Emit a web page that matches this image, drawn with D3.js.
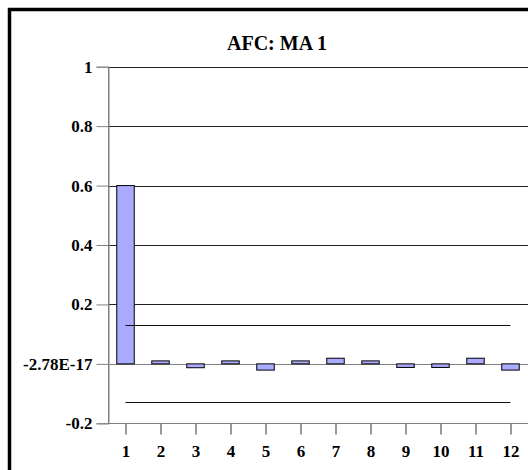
<!DOCTYPE html>
<html>
<head>
<meta charset="utf-8">
<script src="https://cdn.jsdelivr.net/npm/d3@7"></script>
<style>
  body { margin: 0; background: #fff; }
  svg { display: block; }
  text { font-family: "Liberation Serif", "Times New Roman", serif; font-weight: bold; fill: #000; }
</style>
</head>
<body>
<svg id="chart" width="528" height="470"></svg>
<script>
// lags and autocorrelation values
const lags = [1, 2, 3, 4, 5, 6, 7, 8, 9, 10, 11, 12];
const acf = [0.6, 0.01, -0.013, 0.01, -0.021, 0.01, 0.019, 0.01, -0.012, -0.012, 0.019, -0.021];
const yTicks = [-0.2, 0, 0.2, 0.4, 0.6, 0.8, 1];
const yTickLabels = ["-0.2", "-2.78E-17", "0.2", "0.4", "0.6", "0.8", "1"];
const bounds = [0.13, -0.13];

let svg = d3.select("#chart");

// outer frame
svg.append("rect")
    .attr("x", 9.5).attr("y", 9.5)
    .attr("width", 540).attr("height", 480)
    .attr("fill", "none")
    .attr("stroke", "#000")
    .attr("stroke-width", 3.5);

let x = d3.scaleBand()
    .domain(lags)
    .range([108, 528])
    .paddingInner(0.5)
    .paddingOuter(0.25);

let y = d3.scaleLinear()
    .domain([-0.2, 1])
    .range([423.3, 66.7]);

// title
svg.append("text")
    .attr("x", 277).attr("y", 50)
    .attr("text-anchor", "middle")
    .style("font-size", "20px")
    .text("AFC: MA 1");

// gridlines
svg.append("g")
    .selectAll("line")
    .data(yTicks.filter(d => d > -0.2))
    .enter().append("line")
    .attr("x1", 108).attr("x2", 528)
    .attr("y1", d => Math.round(y(d)) + 0.5)
    .attr("y2", d => Math.round(y(d)) + 0.5)
    .attr("stroke", d => d === 0 ? "#808080" : "#222")
    .attr("stroke-width", 1);

// y axis
let yAxis = d3.axisLeft(y)
    .tickValues(yTicks)
    .tickFormat((d, i) => yTickLabels[i])
    .tickSize(12)
    .tickPadding(4);

let gy = svg.append("g")
    .attr("transform", "translate(108.5,0)")
    .call(yAxis);
gy.select(".domain").attr("stroke", "#808080");
gy.selectAll(".tick line").attr("stroke", "#808080");
gy.selectAll(".tick text")
    .style("font-size", "17px")
    .style("font-family", "'Liberation Serif', serif")
    .style("font-weight", "bold");

// x axis (ticks at category centres)
let xc = d3.scalePoint()
    .domain(lags)
    .range([x(1) + x.bandwidth() / 2, x(12) + x.bandwidth() / 2]);

let xAxis = d3.axisBottom(xc)
    .tickSize(11)
    .tickSizeOuter(0)
    .tickPadding(10);

let gx = svg.append("g")
    .attr("transform", "translate(0," + (Math.round(y(-0.2)) + 0.5) + ")")
    .call(xAxis);
gx.select(".domain").remove();
gx.selectAll(".tick line").attr("stroke", "#333");
gx.selectAll(".tick text")
    .style("font-size", "17px")
    .style("font-family", "'Liberation Serif', serif")
    .style("font-weight", "bold");

svg.append("line")
    .attr("x1", 108).attr("x2", 528)
    .attr("y1", Math.round(y(-0.2)) + 0.5)
    .attr("y2", Math.round(y(-0.2)) + 0.5)
    .attr("stroke", "#808080");

// bars
svg.append("g")
    .selectAll("rect")
    .data(acf)
    .enter().append("rect")
    .attr("x", (d, i) => x(lags[i]))
    .attr("y", d => y(Math.max(0, d)))
    .attr("width", x.bandwidth())
    .attr("height", d => Math.abs(y(d) - y(0)))
    .attr("fill", "#aaaaff")
    .attr("stroke", "#000")
    .attr("stroke-width", 1);

// confidence bounds, drawn over the bars
svg.append("g")
    .selectAll("line")
    .data(bounds)
    .enter().append("line")
    .attr("x1", xc(1)).attr("x2", xc(12))
    .attr("y1", d => Math.round(y(d)) + 0.5)
    .attr("y2", d => Math.round(y(d)) + 0.5)
    .attr("stroke", "#111");

svg.append("line")
    .attr("x1", 108.5).attr("x2", 108.5)
    .attr("y1", y(1)).attr("y2", y(-0.2))
    .attr("stroke", "#808080");
</script>
</body>
</html>
